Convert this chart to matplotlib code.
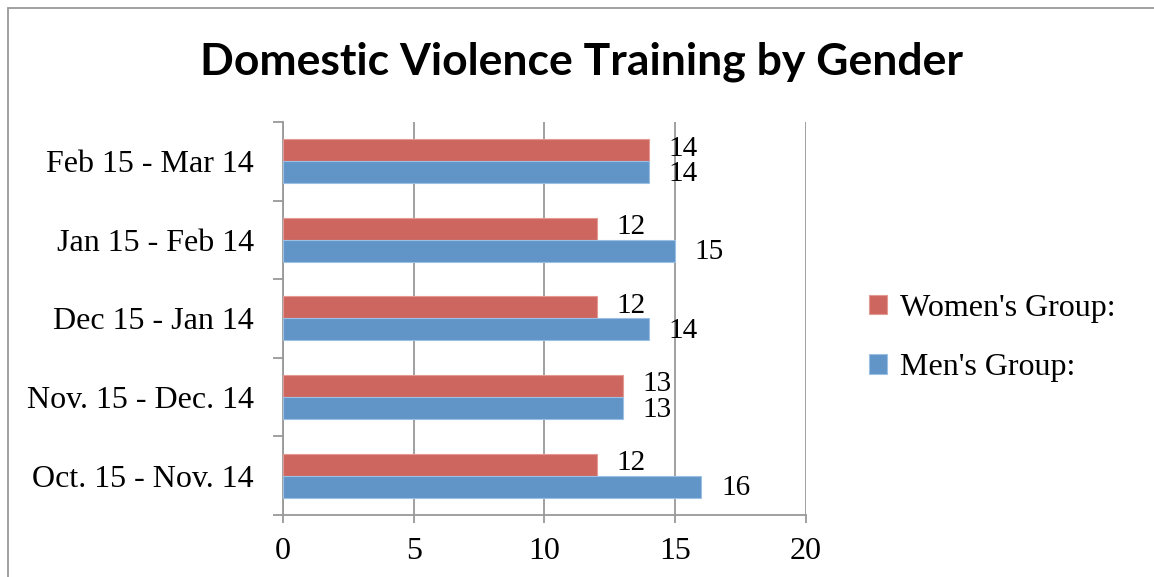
import numpy as np
import matplotlib.pyplot as plt
from matplotlib.patches import Rectangle

# Data
periods = ["Oct. 15 - Nov. 14", "Nov. 15 - Dec. 14", "Dec 15 - Jan 14",
           "Jan 15 - Feb 14", "Feb 15 - Mar 14"]
women = [12, 13, 12, 12, 14]
men = [16, 13, 14, 15, 14]
xticks = [0, 5, 10, 15, 20]

red = "#CD665F"
blue = "#6195C8"
serif = ["Liberation Serif", "DejaVu Serif"]
fs = 23

fig = plt.figure(figsize=(11.54, 5.77), dpi=100)
ax = fig.add_axes([0.2452, 0.1075, 0.4532, 0.6811])

y = np.arange(len(periods))
h = 0.28
ax.barh(y + h / 2, women, height=h, color=red, edgecolor="#E49A94", linewidth=0.8,
        label="Women's Group:", zorder=3)
ax.barh(y - h / 2, men, height=h, color=blue, edgecolor="#9CC0E3", linewidth=0.8,
        label="Men's Group:", zorder=3)

# data labels
for i in range(len(periods)):
    ax.text(women[i] + 0.75, y[i] + h / 2 + 0.02, str(women[i]), va="center", ha="left",
            fontsize=21, family=serif)
    ax.text(men[i] + 0.75, y[i] - h / 2 - 0.02, str(men[i]), va="center", ha="left",
            fontsize=21, family=serif)

ax.set_xlim(0, 20)
ax.set_ylim(-0.5, len(periods) - 0.5)
ax.set_xticks(xticks)
ax.set_xticklabels([str(t) for t in xticks], fontsize=fs, family=serif)
ax.set_yticks(y)
ax.set_yticklabels(periods, fontsize=fs, family=serif)
ax.set_yticks(np.arange(len(periods) + 1) - 0.5, minor=True)
ax.tick_params(axis="y", which="major", length=0, pad=21)
ax.tick_params(axis="y", which="minor", length=7, color="#999999", width=1.3)
ax.tick_params(axis="x", length=6, color="#999999", width=1.3, pad=10)

ax.grid(axis="x", color="#999999", linewidth=1.3, zorder=0)
for s in ["top", "right"]:
    ax.spines[s].set_visible(False)
for s in ["left", "bottom"]:
    ax.spines[s].set_color("#999999")
    ax.spines[s].set_linewidth(1.3)

fig.text(0.504, 0.893, "Domestic Violence Training by Gender", ha="center", va="center",
         fontsize=32, fontweight="bold", family=["Lato", "DejaVu Sans"])

ax.legend(loc="center left", bbox_to_anchor=(1.066, 0.45), frameon=False,
          prop={"family": serif, "size": fs}, handlelength=0.55, handleheight=0.55,
          handletextpad=0.4, labelspacing=0.95)

fig.patches.append(Rectangle((0.007, -0.05), 1.1, 1.036, transform=fig.transFigure,
                             fill=False, edgecolor="#999999", linewidth=1.3))

fig.savefig("out.png", dpi=100)
